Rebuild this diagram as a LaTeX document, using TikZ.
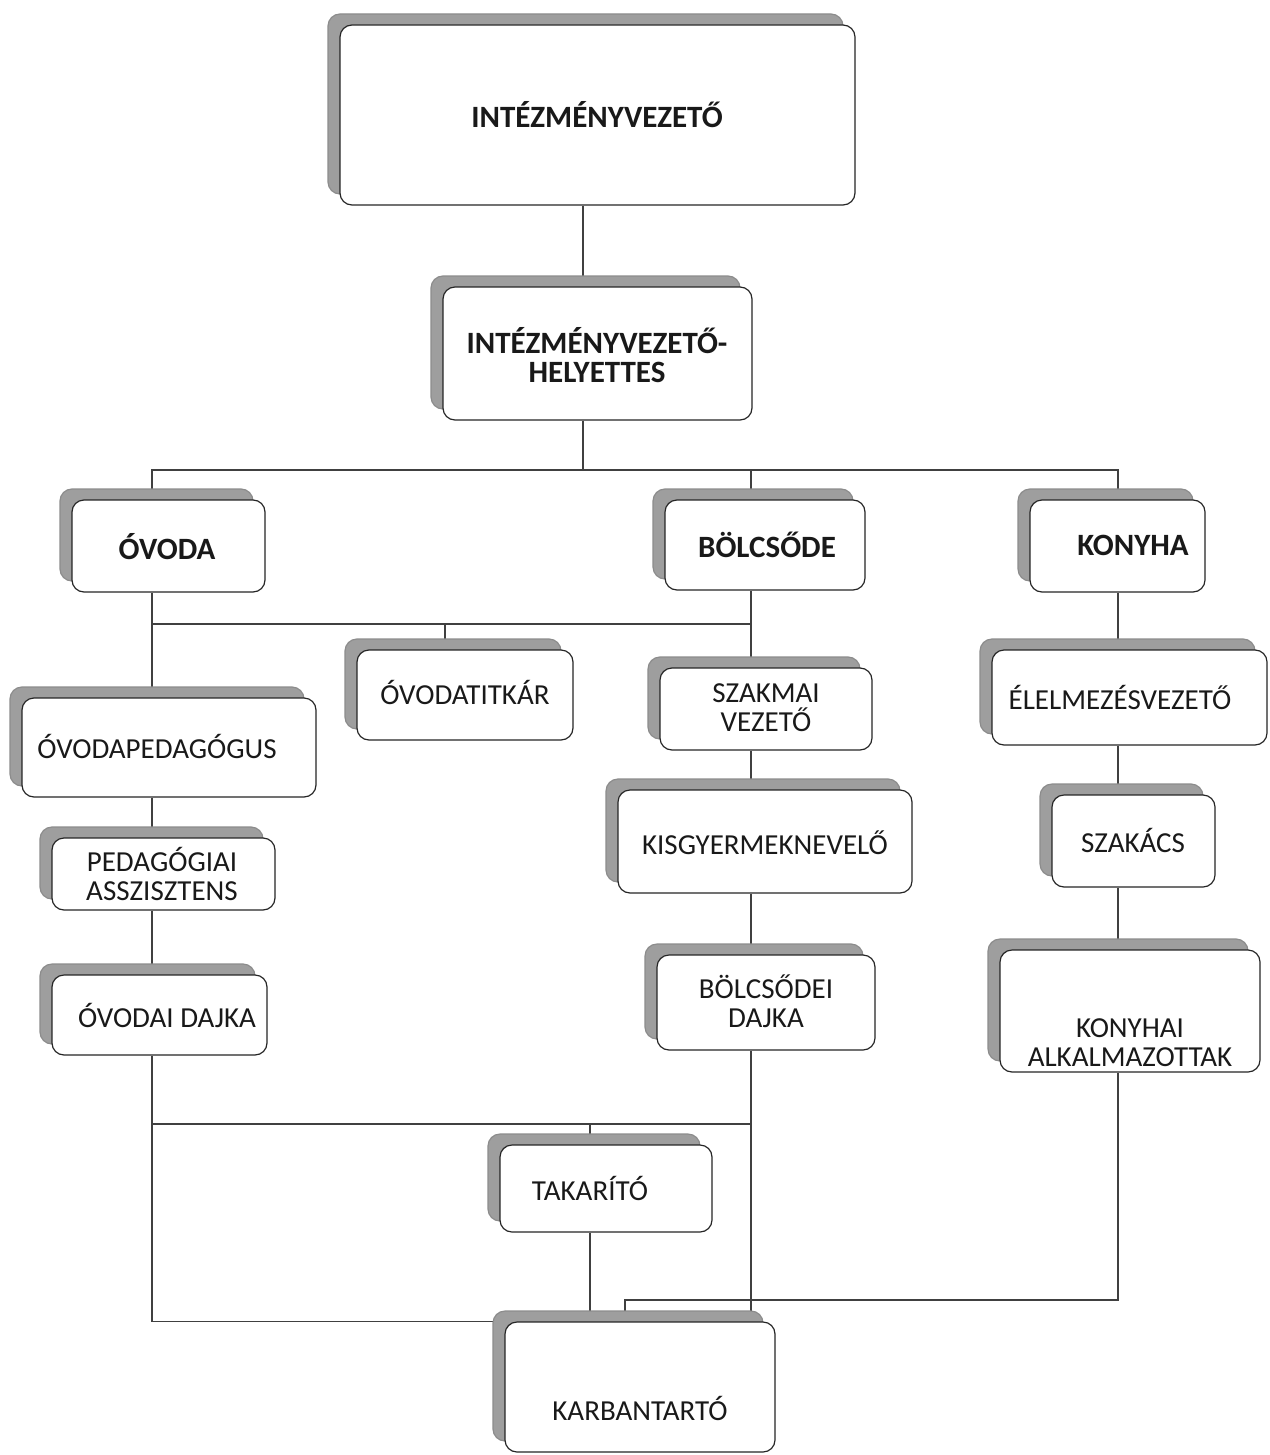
\documentclass[tikz,border=0pt]{standalone}
\usepackage{fontspec}
\setmainfont{Carlito}
\usetikzlibrary{shadows,backgrounds}
\tikzset{
 conn/.style={draw=black!75, line width=0.8pt},
 orgbox/.style={draw=black!85, line width=0.6pt, fill=white, rounded corners=6pt, inner sep=0pt,
   copy shadow={shadow xshift=-6pt, shadow yshift=5.5pt, fill=black!38, draw=black!45, line width=0.6pt}},
 lbl/.style={font=\fontsize{14.5}{14.5}\selectfont, align=center, inner sep=0pt, text=black!90},
 blbl/.style={font=\fontsize{15.5}{14.5}\selectfont\bfseries, align=center, inner sep=0pt, text=black!90},
}
\newcommand\mkbox[5]{\node[orgbox, minimum width={(#4-#2)*0.5pt}, minimum height={(#5-#3)*0.5pt}] (#1) at ({(#2+#4)/2},{(#3+#5)/2}) {};}
\begin{document}
\begin{tikzpicture}[x=0.5pt,y=-0.5pt]
\useasboundingbox (0,0) rectangle (1269,1455);
% boxes
\mkbox{top}{340}{25}{855}{205}
\mkbox{dep}{443}{287}{752}{420}
\mkbox{ovoda}{72}{500}{265}{592}
\mkbox{bolcs}{665}{500}{865}{590}
\mkbox{konyha}{1030}{500}{1205}{592}
\mkbox{titkar}{357}{650}{573}{740}
\mkbox{pedag}{22}{698}{316}{797}
\mkbox{asszisz}{52}{838}{275}{910}
\mkbox{odajka}{52}{975}{267}{1055}
\mkbox{szakmai}{660}{668}{872}{750}
\mkbox{kisgy}{618}{790}{912}{893}
\mkbox{bdajka}{657}{955}{875}{1050}
\mkbox{elelm}{992}{650}{1267}{745}
\mkbox{szakacs}{1052}{795}{1215}{887}
\mkbox{kalk}{1000}{950}{1260}{1072}
\mkbox{takar}{500}{1145}{712}{1232}
\mkbox{karb}{505}{1322}{775}{1452}
% labels
\node[blbl] (t1) at (597,115) {INTÉZMÉNYVEZETŐ};
\node[blbl] (t2) at (597,355) {INTÉZMÉNYVEZETŐ-\\HELYETTES};
\node[blbl] (t3) at (167,547) {ÓVODA};
\node[blbl] (t4) at (767,545) {BÖLCSŐDE};
\node[blbl] (t5) at (1133,545) {KONYHA};
\node[lbl] (t6) at (465,692) {ÓVODATITKÁR};
\node[lbl] (t7) at (157,746) {ÓVODAPEDAGÓGUS};
\node[lbl] (t8) at (162,874) {PEDAGÓGIAI\\ASSZISZTENS};
\node[lbl] (t9) at (167,1015) {ÓVODAI DAJKA};
\node[lbl] (t10) at (766,708) {SZAKMAI\\VEZETŐ};
\node[lbl] (t11) at (765,843) {KISGYERMEKNEVELŐ};
\node[lbl] (t12) at (766,1001) {BÖLCSŐDEI\\DAJKA};
\node[lbl] (t13) at (1120,697) {ÉLELMEZÉSVEZETŐ};
\node[lbl] (t14) at (1133,840) {SZAKÁCS};
\node[lbl] (t15) at (1130,1043) {KONYHAI\\ALKALMAZOTTAK};
\node[lbl] (t16) at (590,1188) {TAKARÍTÓ};
\node[lbl] (t17) at (640,1408) {KARBANTARTÓ};
% connectors
\coordinate (cM) at (583,0);
\coordinate (cL) at (152,0);
\coordinate (cB) at (751,0);
\coordinate (cK) at (1118,0);
\coordinate (cT) at (445,0);
\coordinate (cTk) at (590,0);
\coordinate (cR) at (625,0);
\coordinate (hA) at (0,470);
\coordinate (hB) at (0,624);
\coordinate (hC) at (0,1124);
\coordinate (hD) at (0,1300);
\begin{scope}[on background layer]
\draw[conn] (cM |- top.south) -- (cM |- dep.north);
\draw[conn] (cM |- dep.south) -- (cM |- hA);
\draw[conn] (cL |- ovoda.north) -- (cL |- hA) -- (cK |- hA) -- (cK |- konyha.north);
\draw[conn] (cB |- hA) -- (cB |- bolcs.north);
\draw[conn] (cL |- ovoda.south) -- (cL |- pedag.north);
\draw[conn] (cL |- hB) -- (cB |- hB);
\draw[conn] (cT |- hB) -- (cT |- titkar.north);
\draw[conn] (cB |- bolcs.south) -- (cB |- szakmai.north);
\draw[conn] (cB |- szakmai.south) -- (cB |- kisgy.north);
\draw[conn] (cB |- kisgy.south) -- (cB |- bdajka.north);
\draw[conn] (cB |- bdajka.south) -- (cB |- karb.north);
\draw[conn] (cL |- pedag.south) -- (cL |- asszisz.north);
\draw[conn] (cL |- asszisz.south) -- (cL |- odajka.north);
\draw[conn] (cL |- odajka.south) -- (cL |- karb.north) -- (karb.north west);
\draw[conn] (cL |- hC) -- (cB |- hC);
\draw[conn] (cTk |- hC) -- (cTk |- takar.north);
\draw[conn] (cTk |- takar.south) -- (cTk |- karb.north);
\draw[conn] (cK |- konyha.south) -- (cK |- elelm.north);
\draw[conn] (cK |- elelm.south) -- (cK |- szakacs.north);
\draw[conn] (cK |- szakacs.south) -- (cK |- kalk.north);
\draw[conn] (cK |- kalk.south) -- (cK |- hD) -- (cR |- hD) -- (cR |- karb.north);
\end{scope}
\end{tikzpicture}
\end{document}
